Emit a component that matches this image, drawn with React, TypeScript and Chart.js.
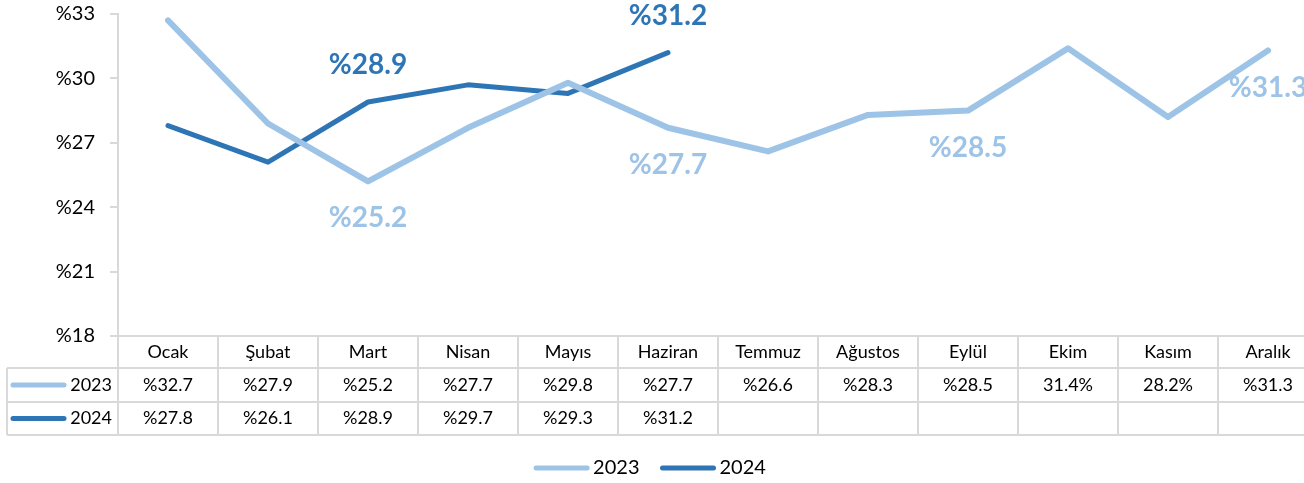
import React, { useEffect, useRef } from 'react';
import { Chart, registerables } from 'chart.js';

Chart.register(...registerables);

const months = ['Ocak', 'Şubat', 'Mart', 'Nisan', 'Mayıs', 'Haziran', 'Temmuz', 'Ağustos', 'Eylül', 'Ekim', 'Kasım', 'Aralık'];
const seriesNames = ['2023', '2024'];
const values2023 = [32.7, 27.9, 25.2, 27.7, 29.8, 27.7, 26.6, 28.3, 28.5, 31.4, 28.2, 31.3];
const values2024 = [27.8, 26.1, 28.9, 29.7, 29.3, 31.2, null, null, null, null, null, null];
const table2023 = ['%32.7', '%27.9', '%25.2', '%27.7', '%29.8', '%27.7', '%26.6', '%28.3', '%28.5', '31.4%', '28.2%', '%31.3'];
const table2024 = ['%27.8', '%26.1', '%28.9', '%29.7', '%29.3', '%31.2', '', '', '', '', '', ''];
const labeled2023 = [2, 5, 8, 11];
const labeled2024 = [2, 5];
const yMin = 18;
const yMax = 33;
const yStep = 3;

const LIGHT = '#9DC3E6';
const DARK = '#2E75B6';
const GRID = '#d9d9d9';
const FONT = 'Lato';

const dataLabelPlugin = {
  id: 'dataLabels',
  afterDatasetsDraw(chart: any) {
    const ctx = chart.ctx;
    const cfg = [
      { idx: labeled2023, above: false, color: LIGHT },
      { idx: labeled2024, above: true, color: DARK },
    ];
    ctx.save();
    ctx.font = `bold 28px ${FONT}`;
    ctx.textAlign = 'center';
    ctx.textBaseline = 'middle';
    cfg.forEach((c, di) => {
      const meta = chart.getDatasetMeta(di);
      const data = chart.data.datasets[di].data;
      c.idx.forEach((i) => {
        const pt = meta.data[i];
        if (!pt || data[i] == null) return;
        ctx.fillStyle = c.color;
        ctx.fillText('%' + Number(data[i]).toFixed(1), pt.x, pt.y + (c.above ? -37 : 37));
      });
    });
    ctx.restore();
  },
};

const tablePlugin = {
  id: 'dataTable',
  afterDraw(chart: any) {
    const ctx = chart.ctx;
    const xs = chart.scales.x;
    const area = chart.chartArea;
    const colW = xs.getPixelForValue(1) - xs.getPixelForValue(0);
    const top = area.bottom;
    const rows = [top, top + 32, top + 66, top + 99];
    const leftEdge = 7;
    const n = months.length;
    const rightEdge = xs.getPixelForValue(n - 1) + colW / 2;

    ctx.save();
    ctx.strokeStyle = GRID;
    ctx.lineWidth = 2;
    ctx.beginPath();
    ctx.moveTo(area.left, rows[0]);
    ctx.lineTo(rightEdge, rows[0]);
    for (let r = 1; r < rows.length; r++) {
      ctx.moveTo(leftEdge, rows[r]);
      ctx.lineTo(rightEdge, rows[r]);
    }
    for (let i = 0; i <= n; i++) {
      const x = xs.getPixelForValue(i) - colW / 2;
      ctx.moveTo(x, rows[0]);
      ctx.lineTo(x, rows[3]);
    }
    ctx.moveTo(leftEdge, rows[1]);
    ctx.lineTo(leftEdge, rows[3]);
    ctx.stroke();

    ctx.fillStyle = '#000';
    ctx.textAlign = 'center';
    ctx.textBaseline = 'middle';
    ctx.font = `18px ${FONT}`;
    months.forEach((m, i) => {
      const cx = xs.getPixelForValue(i);
      ctx.fillText(m, cx, (rows[0] + rows[1]) / 2);
      ctx.fillText(table2023[i], cx, (rows[1] + rows[2]) / 2);
      ctx.fillText(table2024[i], cx, (rows[2] + rows[3]) / 2);
    });

    const keyColors = [LIGHT, DARK];
    ctx.lineCap = 'round';
    for (let r = 0; r < 2; r++) {
      const cy = (rows[r + 1] + rows[r + 2]) / 2;
      ctx.strokeStyle = keyColors[r];
      ctx.lineWidth = 5;
      ctx.beginPath();
      ctx.moveTo(13, cy);
      ctx.lineTo(64, cy);
      ctx.stroke();
      ctx.fillStyle = '#000';
      ctx.textAlign = 'right';
      ctx.font = `18px ${FONT}`;
      ctx.fillText(seriesNames[r], area.left - 6, cy);
    }

    ctx.font = `20px ${FONT}`;
    ctx.textAlign = 'left';
    const lineLen = 55;
    const gapText = 4;
    const gapItem = 21;
    const widths = seriesNames.map((s) => ctx.measureText(s).width);
    const total = widths.reduce((a, w) => a + lineLen + gapText + w, 0) + gapItem;
    let x = 650 - total / 2;
    const ly = 468;
    seriesNames.forEach((s, i) => {
      ctx.strokeStyle = keyColors[i];
      ctx.lineWidth = 5;
      ctx.beginPath();
      ctx.moveTo(x + 2, ly);
      ctx.lineTo(x + lineLen - 2, ly);
      ctx.stroke();
      x += lineLen + gapText;
      ctx.fillStyle = '#000';
      ctx.fillText(s, x, ly);
      x += widths[i] + gapItem;
    });
    ctx.restore();
  },
};

export default function App() {
  const canvasRef = useRef<HTMLCanvasElement | null>(null);

  useEffect(() => {
    if (!canvasRef.current) return;
    const chart = new Chart(canvasRef.current, {
      type: 'line',
      data: {
        labels: months,
        datasets: [
          {
            label: seriesNames[0],
            data: values2023,
            borderColor: LIGHT,
            backgroundColor: LIGHT,
            borderWidth: 6,
            pointRadius: 0,
            tension: 0,
            borderCapStyle: 'round',
            borderJoinStyle: 'round',
          },
          {
            label: seriesNames[1],
            data: values2024,
            borderColor: DARK,
            backgroundColor: DARK,
            borderWidth: 5,
            pointRadius: 0,
            tension: 0,
            spanGaps: false,
            borderCapStyle: 'round',
            borderJoinStyle: 'round',
          },
        ],
      },
      options: {
        responsive: false,
        animation: false,
        devicePixelRatio: 1,
        layout: { padding: { top: 14, bottom: 147, left: 0, right: 0 } },
        plugins: { legend: { display: false }, tooltip: { enabled: false } },
        scales: {
          x: { display: false, offset: true },
          y: {
            min: yMin,
            max: yMax,
            afterFit: (s: any) => {
              s.width = 118;
              s.paddingTop = 0;
              s.paddingBottom = 0;
            },
            ticks: {
              stepSize: yStep,
              padding: 15,
              color: '#000',
              font: { family: FONT, size: 20 },
              callback: (v: any) => '%' + v,
            },
            grid: { drawOnChartArea: false, drawTicks: true, tickLength: 8, color: GRID, lineWidth: 2 },
            border: { display: true, color: GRID, width: 2 },
          },
        },
      },
      plugins: [dataLabelPlugin, tablePlugin],
    });
    return () => chart.destroy();
  }, []);

  return (
    <div style={{ position: 'fixed', left: 0, top: 0, width: 1318, height: 483, background: '#fff' }}>
      <canvas ref={canvasRef} width={1318} height={483} />
    </div>
  );
}
